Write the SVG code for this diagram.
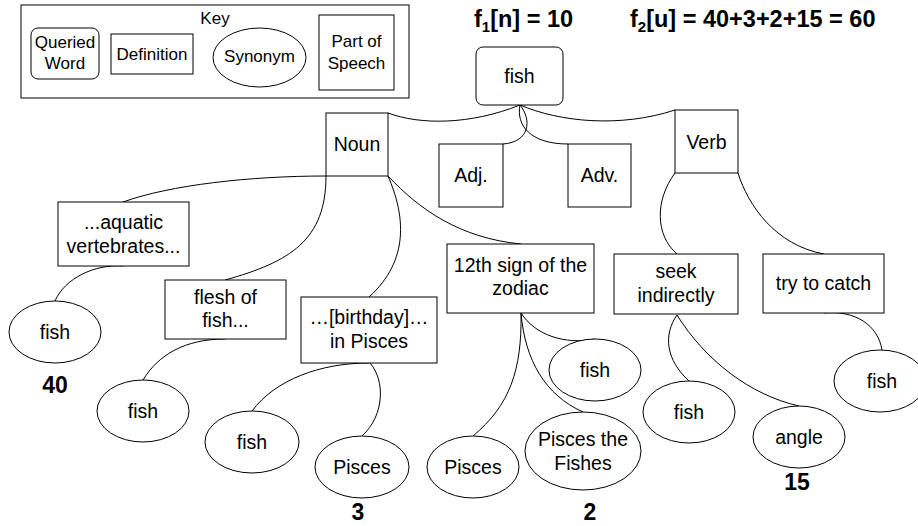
<svg xmlns="http://www.w3.org/2000/svg" width="918" height="526" viewBox="0 0 918 526">
<style>
.b{fill:#fff;stroke:#000;stroke-width:1}
.c{fill:none;stroke:#000;stroke-width:1}
text{font-family:"Liberation Sans",Arial,sans-serif;fill:#000}
.t{font-size:19.5px;text-anchor:middle}
.k{font-size:17px;text-anchor:middle}
.n{font-size:23px;font-weight:bold;text-anchor:middle}
.h{font-size:23.5px;font-weight:bold}
</style>
<rect width="918" height="526" fill="#fff"/>
<g id="key">
<rect class="b" x="21" y="5" width="388" height="93"/>
<text class="k" x="215" y="24">Key</text>
<rect class="b" x="31" y="28" width="68" height="51" rx="7"/>
<text class="k" x="65" y="48">Queried</text>
<text class="k" x="65" y="69">Word</text>
<rect class="b" x="111" y="34" width="82" height="40"/>
<text class="k" x="152" y="60">Definition</text>
<ellipse class="b" cx="259.5" cy="57.5" rx="46.5" ry="29.5"/>
<text class="k" x="259.5" y="62">Synonym</text>
<rect class="b" x="319" y="15" width="75" height="75"/>
<text class="k" x="356.5" y="47">Part of</text>
<text class="k" x="356.5" y="69">Speech</text>
</g>
<g id="titles">
<text class="h" x="474" y="27">f<tspan font-size="15" dy="5">1</tspan><tspan dy="-5">[n] = 10</tspan></text>
<text class="h" x="630" y="27">f<tspan font-size="15" dy="5">2</tspan><tspan dy="-5">[u] = 40+3+2+15 = 60</tspan></text>
</g>
<g id="connectors">
<path class="c" d="M520,105 C470,125 420,125 388,113"/>
<path class="c" d="M520,105 C560,122 620,128 675,110"/>
<path class="c" d="M520,105 C532,120 530,142 503,144"/>
<path class="c" d="M520,105 C516,125 530,144 568,144"/>
<path class="c" d="M326,176 C250,176 170,185 123,202"/>
<path class="c" d="M326,176 C326,240 290,262 225,280 L225,297"/>
<path class="c" d="M388,176 C405,215 410,260 369,297"/>
<path class="c" d="M388,176 C420,210 460,238 521,244"/>
<path class="c" d="M675,173 C655,200 655,235 677,254"/>
<path class="c" d="M738,173 C748,205 775,245 824,254"/>
<path class="c" d="M123,266 C95,264 65,278 55,301"/>
<path class="c" d="M225,339 C185,339 158,355 143,380"/>
<path class="c" d="M369,363 C320,363 275,380 252,411"/>
<path class="c" d="M370,363 C385,380 385,415 362,436"/>
<path class="c" d="M521,313 C535,335 565,345 595,339"/>
<path class="c" d="M521,313 C522,370 510,405 473,436"/>
<path class="c" d="M521,313 C525,360 545,395 583,412"/>
<path class="c" d="M677,315 C663,335 666,360 689,381"/>
<path class="c" d="M677,315 C705,360 750,395 799,406"/>
<path class="c" d="M824,313 C855,310 878,325 882,350"/>
</g>
<g id="root"><rect class="b" x="476" y="47" width="87" height="58" rx="7"/><text class="t" x="519.5" y="83">fish</text></g>
<g id="noun"><rect class="b" x="326" y="113" width="62" height="63"/><text class="t" x="357" y="151">Noun</text></g>
<g id="adj"><rect class="b" x="439" y="144" width="64" height="63"/><text class="t" x="471" y="182">Adj.</text></g>
<g id="adv"><rect class="b" x="568" y="144" width="63" height="63"/><text class="t" x="599.5" y="182">Adv.</text></g>
<g id="verb"><rect class="b" x="675" y="110" width="63" height="63"/><text class="t" x="706.5" y="149">Verb</text></g>
<g id="d-aquatic"><rect class="b" x="58" y="202" width="131" height="64"/><text class="t" x="123.5" y="229">...aquatic</text><text class="t" x="123.5" y="253">vertebrates...</text></g>
<g id="d-flesh"><rect class="b" x="165" y="280" width="121" height="59"/><text class="t" x="225.5" y="304">flesh of</text><text class="t" x="225.5" y="327">fish...</text></g>
<g id="d-birthday"><rect class="b" x="301" y="297" width="136" height="66"/><text class="t" x="369" y="324">…[birthday]…</text><text class="t" x="369" y="348">in Pisces</text></g>
<g id="d-zodiac"><rect class="b" x="447" y="244" width="147" height="69"/><text class="t" x="520.5" y="272">12th sign of the</text><text class="t" x="520.5" y="295">zodiac</text></g>
<g id="d-seek"><rect class="b" x="614" y="254" width="124" height="60"/><text class="t" x="676" y="278">seek</text><text class="t" x="676" y="302">indirectly</text></g>
<g id="d-try"><rect class="b" x="763" y="254" width="121" height="59"/><text class="t" x="823.5" y="290">try to catch</text></g>
<g id="s1"><ellipse class="b" cx="55" cy="332" rx="46" ry="31"/><text class="t" x="55" y="339">fish</text></g>
<g id="s2"><ellipse class="b" cx="143" cy="411" rx="46" ry="31"/><text class="t" x="143" y="418">fish</text></g>
<g id="s3"><ellipse class="b" cx="252" cy="442" rx="47" ry="31"/><text class="t" x="252" y="449">fish</text></g>
<g id="s4"><ellipse class="b" cx="362" cy="467" rx="47" ry="31"/><text class="t" x="362" y="474">Pisces</text></g>
<g id="s5"><ellipse class="b" cx="473" cy="467" rx="46" ry="31"/><text class="t" x="473" y="474">Pisces</text></g>
<g id="s6"><ellipse class="b" cx="583" cy="451" rx="58" ry="39"/><text class="t" x="583" y="446">Pisces the</text><text class="t" x="583" y="470">Fishes</text></g>
<g id="s7"><ellipse class="b" cx="595" cy="370" rx="46" ry="31"/><text class="t" x="595" y="377">fish</text></g>
<g id="s8"><ellipse class="b" cx="689" cy="412" rx="46" ry="31"/><text class="t" x="689" y="419">fish</text></g>
<g id="s9"><ellipse class="b" cx="799" cy="437" rx="46" ry="31"/><text class="t" x="799" y="444">angle</text></g>
<g id="s10"><ellipse class="b" cx="880" cy="381" rx="46" ry="31"/><text class="t" x="882" y="388">fish</text></g>
<g id="scores">
<text class="n" x="55" y="393">40</text>
<text class="n" x="358" y="520">3</text>
<text class="n" x="590" y="520">2</text>
<text class="n" x="797" y="490">15</text>
</g>
</svg>
